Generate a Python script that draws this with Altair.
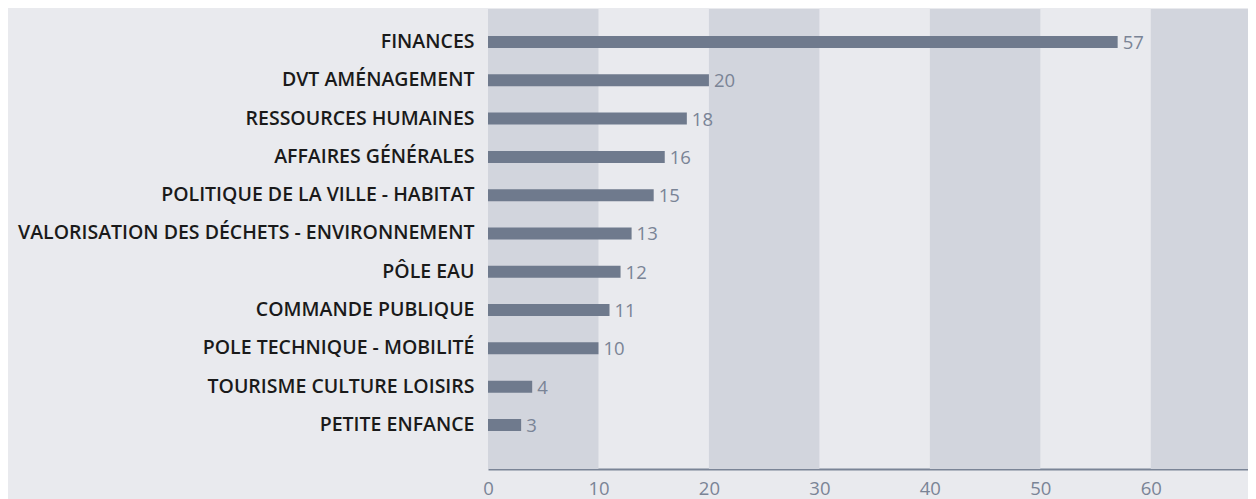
import altair as alt
import pandas as pd

categories = [
    "FINANCES",
    "DVT AMÉNAGEMENT",
    "RESSOURCES HUMAINES",
    "AFFAIRES GÉNÉRALES",
    "POLITIQUE DE LA VILLE - HABITAT",
    "VALORISATION DES DÉCHETS - ENVIRONNEMENT",
    "PÔLE EAU",
    "COMMANDE PUBLIQUE",
    "POLE TECHNIQUE - MOBILITÉ",
    "TOURISME CULTURE LOISIRS",
    "PETITE ENFANCE",
]
values = [57, 20, 18, 16, 15, 13, 12, 11, 10, 4, 3]
band_starts = [0, 20, 40, 60]
band_ends = [10, 30, 50, 70]
tick_values = [0, 10, 20, 30, 40, 50, 60]

FONT = "Open Sans"
BG = "#e9eaee"
BAND = "#d2d5dd"
BAR = "#6f7a8d"
MUTED = "#7a8496"

df = pd.DataFrame({"cat": categories, "val": values})
bands = pd.DataFrame({"start": band_starts, "end": band_ends})

xscale = alt.Scale(domain=[0, 68.8], nice=False, zero=True)

band_layer = alt.Chart(bands).mark_rect(color=BAND, clip=True).encode(
    x=alt.X("start:Q", scale=xscale,
            axis=alt.Axis(values=tick_values, grid=False, ticks=False, domain=True,
                          domainColor=MUTED, domainWidth=2, labelColor=MUTED,
                          labelFontSize=18.5, labelFont=FONT,
                          labelPadding=10, title=None, labelFlush=False)),
    x2="end:Q",
    y=alt.value(0),
    y2=alt.value(460),
)

ysc = alt.Scale(paddingInner=0.6867, paddingOuter=0.849, align=0.415)
yenc = alt.Y("cat:N", sort=categories, scale=ysc,
             axis=alt.Axis(ticks=False, domain=False, labelFontSize=19.5, labelFont=FONT,
                           labelFontWeight=600,
                           labelColor="#1a1a1a", labelPadding=14, labelLimit=0,
                           title=None))

bars = alt.Chart(df).mark_bar(color=BAR, cornerRadius=0).encode(
    x=alt.X("val:Q", scale=xscale),
    y=yenc,
)

labels = alt.Chart(df).mark_text(align="left", baseline="middle", dx=5, dy=1,
                                 color=MUTED, fontSize=18.5, font=FONT).encode(
    x=alt.X("val:Q", scale=xscale),
    y=alt.Y("cat:N", sort=categories, scale=ysc),
    text="val:Q",
)

chart = alt.layer(band_layer, bars, labels).properties(
    width=760,
    height=460,
    background=BG,
    padding={"left": 480, "top": 1, "right": 0, "bottom": 30},
    autosize=alt.AutoSizeParams(type="none"),
).configure_view(stroke=None, fill=BG)

chart.save("out.html", embed_options={"renderer": "svg", "actions": False})
